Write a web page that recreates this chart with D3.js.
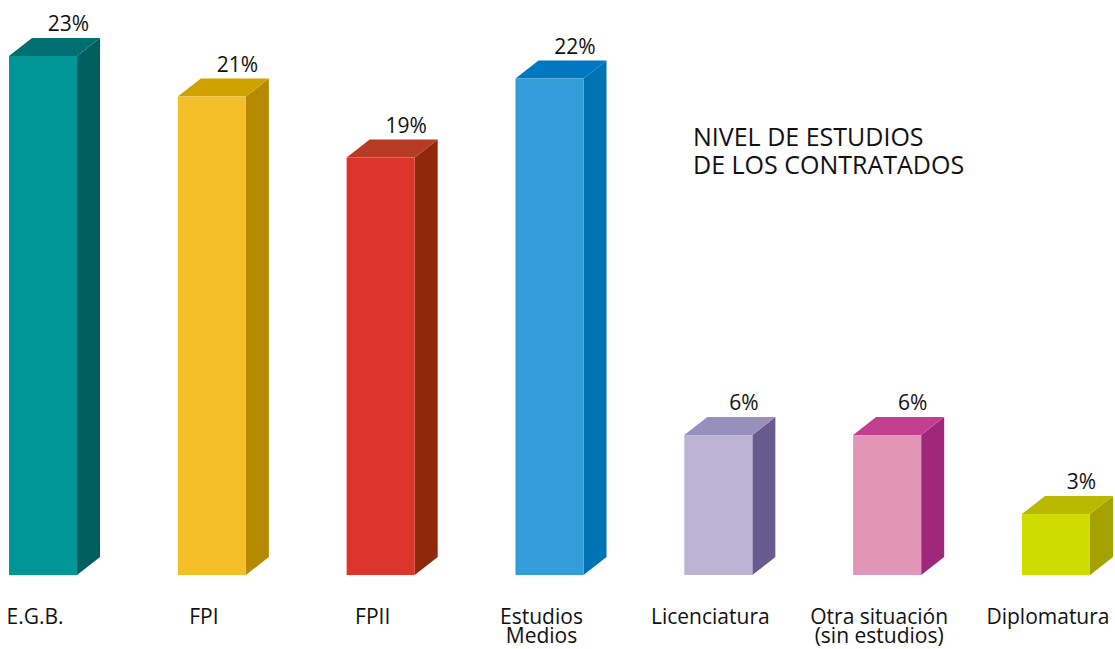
<!DOCTYPE html>
<html>
<head>
<meta charset="utf-8">
<script src="https://cdn.jsdelivr.net/npm/d3@7.9.0/dist/d3.min.js"></script>
<style>
  html, body { margin: 0; padding: 0; background: #fff; }
  svg { display: block; font-family: "Open Sans", "Liberation Sans", Arial, sans-serif; }
</style>
</head>
<body>
<div id="chart"></div>
<script>
// categories, values (%), shown labels
const categories = ['E.G.B.', 'FPI', 'FPII', 'Estudios Medios', 'Licenciatura', 'Otra situación (sin estudios)', 'Diplomatura'];
const catLines = [['E.G.B.'], ['FPI'], ['FPII'], ['Estudios', 'Medios'], ['Licenciatura'], ['Otra situación', '(sin estudios)'], ['Diplomatura']];
const values = [23.0, 21.2, 18.5, 22.0, 6.2, 6.2, 2.7];
const valueLabels = ['23%', '21%', '19%', '22%', '6%', '6%', '3%'];

// front / side / top colours
const frontColors = ['#009698', '#f3be27', '#dc362c', '#339cd9', '#bcb4d3', '#e196b8', '#d0dc00'];
const sideColors  = ['#005e5f', '#b58900', '#90280c', '#0073b2', '#665a8e', '#9f277a', '#a3a200'];
const topColors   = ['#006f70', '#cfa200', '#b73a24', '#0077c1', '#9790bd', '#c33e8e', '#b9ba00'];

const titleLines = ['NIVEL DE ESTUDIOS', 'DE LOS CONTRATADOS'];

const width = 1115;
const height = 649;
const baseline = 575;
const dx = 23, dy = 18;

const svg = d3.select('#chart')
  .append('svg')
  .attr('width', width)
  .attr('height', height);

const x = d3.scaleBand()
  .domain(categories)
  .range([9, 1090])
  .paddingInner(0.597)
  .paddingOuter(0);

const y = d3.scaleLinear()
  .domain([0, 23])
  .range([baseline, 56]);

const data = categories.map((c, i) => ({
  cat: c, value: values[i], label: valueLabels[i], lines: catLines[i],
  front: frontColors[i], side: sideColors[i], top: topColors[i]
}));

const bw = x.bandwidth();

const bars = svg.append('g').attr('class', 'bars')
  .selectAll('g')
  .data(data)
  .join('g');

// side face
bars.append('path')
  .attr('fill', d => d.side)
  .attr('d', d => {
    const x1 = x(d.cat) + bw, yt = y(d.value);
    return `M${x1},${yt} L${x1 + dx},${yt - dy} L${x1 + dx},${baseline - dy} L${x1},${baseline} Z`;
  });

// top face
bars.append('path')
  .attr('fill', d => d.top)
  .attr('d', d => {
    const x0 = x(d.cat), yt = y(d.value);
    return `M${x0},${yt} L${x0 + dx},${yt - dy} L${x0 + bw + dx},${yt - dy} L${x0 + bw},${yt} Z`;
  });

// front face
bars.append('rect')
  .attr('fill', d => d.front)
  .attr('x', d => x(d.cat))
  .attr('y', d => y(d.value))
  .attr('width', bw)
  .attr('height', d => baseline - y(d.value));

// value labels
bars.append('text')
  .attr('x', d => x(d.cat) + bw / 2 + dx / 2 + 14)
  .attr('y', d => y(d.value) - dy - 7)
  .attr('text-anchor', 'middle')
  .attr('font-size', 21)
  .attr('fill', '#111')
  .text(d => d.label);

// category labels
const cats = svg.append('g').attr('class', 'cats')
  .selectAll('text')
  .data(data)
  .join('text')
  .attr('x', d => x(d.cat) + bw / 2 - 8)
  .attr('y', 624)
  .attr('text-anchor', 'middle')
  .attr('font-size', 21)
  .attr('fill', '#111');

cats.selectAll('tspan')
  .data(d => d.lines)
  .join('tspan')
  .attr('x', function () { return d3.select(this.parentNode).attr('x'); })
  .attr('dy', (d, i) => i === 0 ? 0 : 19)
  .text(d => d);

// title
svg.append('text')
  .attr('x', 693)
  .attr('y', 146)
  .attr('font-size', 25)
  .attr('fill', '#111')
  .selectAll('tspan')
  .data(titleLines)
  .join('tspan')
  .attr('x', 693)
  .attr('dy', (d, i) => i === 0 ? 0 : 28)
  .text(d => d);
</script>
</body>
</html>
